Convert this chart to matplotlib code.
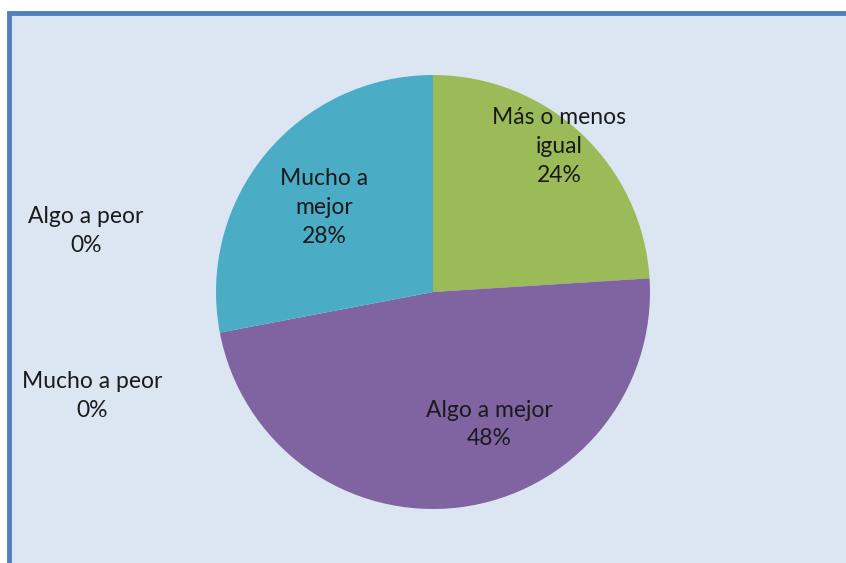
import matplotlib.pyplot as plt
from matplotlib.patches import Rectangle

# datos del grafico
categorias = ['Más o menos\nigual', 'Algo a mejor', 'Mucho a peor', 'Algo a peor', 'Mucho a\nmejor']
porcentajes = [24, 48, 0, 0, 28]
colores = ['#9BBB59', '#8064A2', '#C0504D', '#F79646', '#4BACC6']

# posicion de cada etiqueta (en unidades del radio)
pos_etiquetas = [(0.58, 0.67), (0.26, -0.61), (-1.57, -0.48), (-1.60, 0.28), (-0.50, 0.39)]

W, H = 846, 563
fig = plt.figure(figsize=(W / 100, H / 100), dpi=100)
fig.patch.set_facecolor('white')

# marco azul con fondo claro
marco = Rectangle((8.5 / W, -0.05), 1.2, (H - 12.5) / H + 0.05, transform=fig.transFigure,
                  facecolor='#DCE6F2', edgecolor='#4F81BD', linewidth=3.5, zorder=-5)
fig.patches.append(marco)

cx, cy, r = 433, 292, 217
ax = fig.add_axes([(cx - r) / W, (H - cy - r) / H, 2 * r / W, 2 * r / H])
ax.pie(porcentajes, colors=colores, startangle=90, counterclock=False,
       wedgeprops={'linewidth': 0})
ax.set_xlim(-1, 1)
ax.set_ylim(-1, 1)
ax.set_aspect('equal')
ax.axis('off')

for cat, val, (x, y) in zip(categorias, porcentajes, pos_etiquetas):
    ax.text(x, y, f'{cat}\n{val}%', ha='center', va='center', fontsize=16.5,
            family='Lato', color='#1A1A1A', linespacing=1.45, clip_on=False)

fig.savefig('out.png', dpi=100)
